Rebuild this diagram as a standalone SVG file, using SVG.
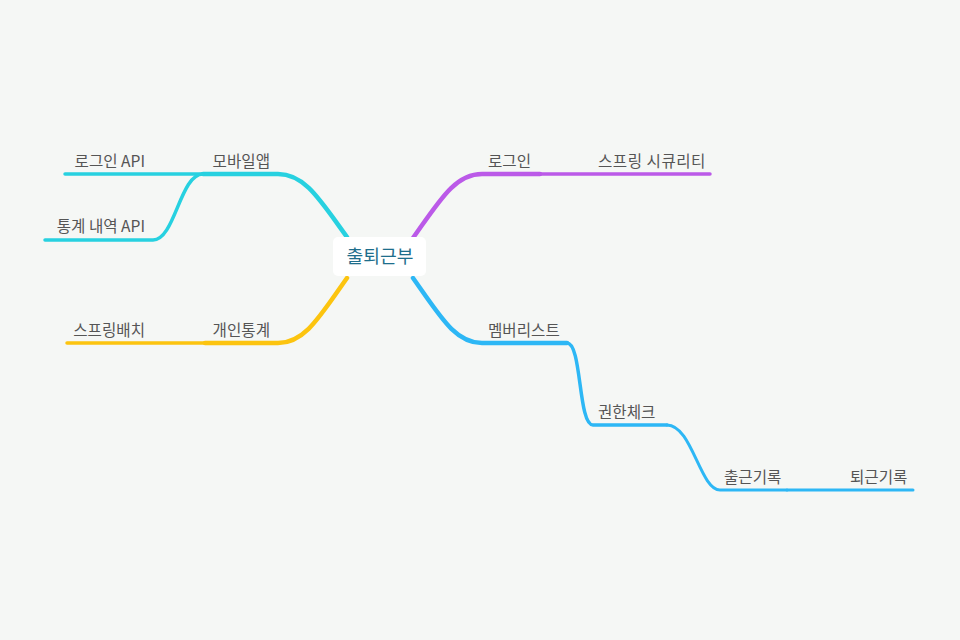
<svg xmlns="http://www.w3.org/2000/svg" width="960" height="640" viewBox="0 0 960 640">
<style>
.l{fill:none;stroke-linecap:round;stroke-linejoin:round}
.w1{stroke-width:4.5}
.w2{stroke-width:3.5}
.w3{stroke-width:3}
.p{stroke:#bb5ae8}
.c{stroke:#27d1e0}
.y{stroke:#fcc40f}
.b{stroke:#2db7f5}
.t{font-family:"Noto Sans CJK KR","Noto Sans",sans-serif;font-size:15.6px;fill:#555}
.ts{text-anchor:start}
.te{text-anchor:end}
</style>
<rect width="960" height="640" fill="#f5f7f5"/>
<g id="connectors">
<path class="l w1 p" d="M413 238 C440 200 455 174 482 174 H540"/>
<path class="l w2 p" d="M540 174 H710"/>
<path class="l w1 b" d="M413 278 C440 316 455 343 482 343 H567"/>
<path class="l w2 b" d="M567 343 C582 343 578 425 593 425 H667"/>
<path class="l w3 b" d="M667 425 C692 425 700 490 720 490 H787"/>
<path class="l w3 b" d="M787 490 H913"/>
<path class="l w1 c" d="M347 237 C320 200 305 174 278 174 H203"/>
<path class="l w2 c" d="M203 174 H65"/>
<path class="l w2 c" d="M203 174 C180 174 175 240 153 240 H45"/>
<path class="l w1 y" d="M347 278 C320 316 305 343 278 343 H205"/>
<path class="l w2 y" d="M205 343 H67"/>
</g>
<g id="root">
<rect x="333" y="237" width="93" height="39" rx="5" fill="#ffffff"/>
<text x="380" y="263" text-anchor="middle" font-family="Noto Sans CJK KR,Noto Sans,sans-serif" font-size="18.2" fill="#1e6e8c">출퇴근부</text>
</g>
<g id="n-login"><text class="t ts" x="488" y="167">로그인</text></g>
<g id="n-security"><text class="t ts" x="598" y="167" letter-spacing="0.5">스프링 시큐리티</text></g>
<g id="n-member"><text class="t ts" x="488" y="336">멤버리스트</text></g>
<g id="n-auth"><text class="t ts" x="598" y="418">권한체크</text></g>
<g id="n-in"><text class="t ts" x="724" y="483">출근기록</text></g>
<g id="n-out"><text class="t ts" x="850" y="483">퇴근기록</text></g>
<g id="n-mobile"><text class="t te" x="270" y="167">모바일앱</text></g>
<g id="n-loginapi"><text class="t te" x="145" y="167">로그인 API</text></g>
<g id="n-statapi"><text class="t te" x="145" y="232">통계 내역 API</text></g>
<g id="n-stat"><text class="t te" x="270" y="336">개인통계</text></g>
<g id="n-batch"><text class="t te" x="145" y="336">스프링배치</text></g>
</svg>
